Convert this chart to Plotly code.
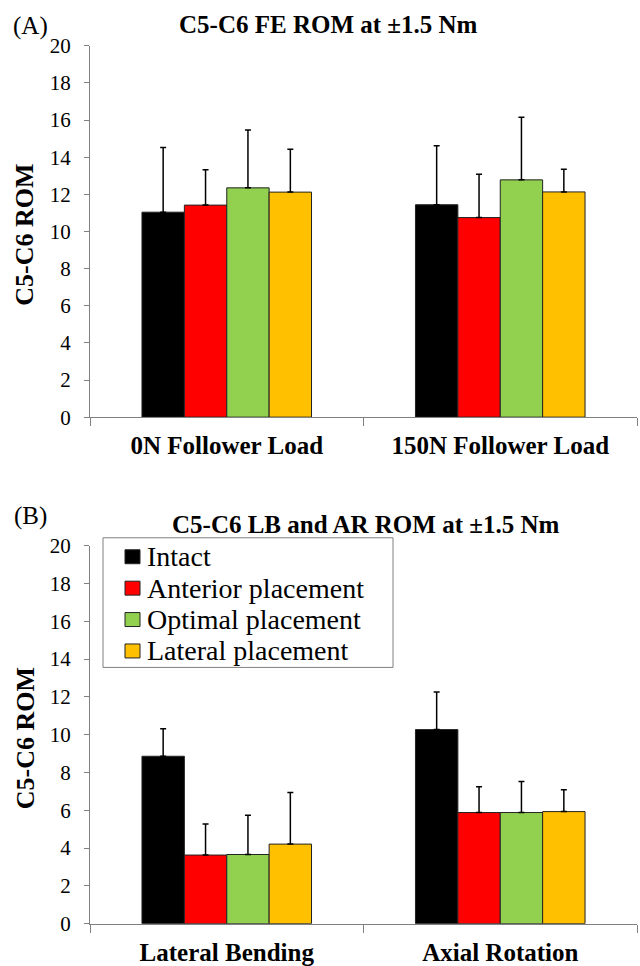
import plotly.graph_objects as go
from plotly.subplots import make_subplots

series = ["Intact", "Anterior placement", "Optimal placement", "Lateral placement"]
colors = ["#000000", "#FF0000", "#92D050", "#FFC000"]

cats_a = ["0N Follower Load", "150N Follower Load"]
vals_a = {
    "Intact": [11.04, 11.44],
    "Anterior placement": [11.42, 10.75],
    "Optimal placement": [12.35, 12.78],
    "Lateral placement": [12.12, 12.13],
}
err_a = {
    "Intact": [3.48, 3.18],
    "Anterior placement": [1.90, 2.33],
    "Optimal placement": [3.12, 3.37],
    "Lateral placement": [2.31, 1.22],
}

cats_b = ["Lateral Bending", "Axial Rotation"]
vals_b = {
    "Intact": [8.86, 10.27],
    "Anterior placement": [3.63, 5.88],
    "Optimal placement": [3.66, 5.88],
    "Lateral placement": [4.21, 5.93],
}
err_b = {
    "Intact": [1.46, 1.99],
    "Anterior placement": [1.65, 1.37],
    "Optimal placement": [2.08, 1.64],
    "Lateral placement": [2.73, 1.15],
}

y_ticks = list(range(0, 21, 2))

SERIF = "Liberation Serif"
W, H = 640, 966


def py(ys):
    """paper y for a target pixel row (compensating the page's vertical fit)."""
    return 1 - ((ys - 11.6) / 0.975) / H


fig = make_subplots(rows=2, cols=1)

for row, (cats, vals, errs) in enumerate([(cats_a, vals_a, err_a), (cats_b, vals_b, err_b)], start=1):
    for i, s in enumerate(series):
        fig.add_trace(go.Bar(
            x=cats, y=vals[s], name=s, showlegend=False, hoverinfo="skip",
            marker=dict(color=colors[i], line=dict(color="#222222", width=1)),
            error_y=dict(type="data", symmetric=False, array=errs[s],
                         arrayminus=[0] * len(cats), color="#000000",
                         thickness=1.5, width=3),
        ), row=row, col=1)

xd = [90 / W, 637 / W]
yA = [py(418), py(45.5)]
yB = [py(926), py(547)]

axis_common_y = dict(range=[0, 20], tickvals=y_ticks, showline=True, linecolor="#808080",
                     linewidth=1, ticks="outside", ticklen=5, tickcolor="#808080",
                     showgrid=False, zeroline=False, ticklabelstandoff=9,
                     tickfont=dict(family=SERIF, size=21, color="#000000"))
axis_common_x = dict(showline=True, linecolor="#808080", linewidth=1, ticks="outside",
                     ticklen=8, tickcolor="#808080", tickson="boundaries", showgrid=False,
                     ticklabelstandoff=6,
                     tickfont=dict(family=SERIF, size=25, color="#000000"))

fig.update_layout(
    xaxis=dict(domain=xd, tickvals=cats_a, ticktext=["<b>%s</b>" % c for c in cats_a], **axis_common_x),
    yaxis=dict(domain=yA, **axis_common_y),
    xaxis2=dict(domain=xd, tickvals=cats_b, ticktext=["<b>%s</b>" % c for c in cats_b], **axis_common_x),
    yaxis2=dict(domain=yB, **axis_common_y),
)

fig.update_layout(
    width=W, height=H, margin=dict(l=0, r=0, t=0, b=0),
    paper_bgcolor="white", plot_bgcolor="white",
    barmode="group", bargap=0.38, bargroupgap=0,
    font=dict(family=SERIF, color="#000000"),
    showlegend=False,
)

ann = [
    dict(text="(A)", x=11 / W, y=py(26), xanchor="left", yanchor="middle", font=dict(size=25)),
    dict(text="<b>C5-C6 FE ROM at ±1.5 Nm</b>", x=328 / W, y=py(24), xanchor="center",
         yanchor="middle", font=dict(size=25)),
    dict(text="(B)", x=12 / W, y=py(517), xanchor="left", yanchor="middle", font=dict(size=25)),
    dict(text="<b>C5-C6 LB and AR ROM at ±1.5 Nm</b>", x=366 / W, y=py(526), xanchor="center",
         yanchor="middle", font=dict(size=25)),
    dict(text="<b>C5-C6 ROM</b>", x=25 / W, y=py(235), xanchor="center", yanchor="middle",
         textangle=-90, font=dict(size=26)),
    dict(text="<b>C5-C6 ROM</b>", x=25 / W, y=py(740), xanchor="center", yanchor="middle",
         textangle=-90, font=dict(size=26)),
]

# Legend (panel B), drawn as a bordered box with swatches and text
shapes = [dict(type="rect", xref="paper", yref="paper",
               x0=103 / W, x1=393 / W, y0=py(669), y1=py(539),
               line=dict(color="#808080", width=1), fillcolor="white", layer="above")]
row_y = [557, 588.5, 620, 651.5]
for i, s in enumerate(series):
    yc = row_y[i]
    shapes.append(dict(type="rect", xref="paper", yref="paper",
                       x0=125 / W, x1=140 / W, y0=py(yc + 8), y1=py(yc - 6),
                       line=dict(color="#222222", width=1), fillcolor=colors[i], layer="above"))
    ann.append(dict(text=s, x=145 / W, y=py(yc + 1), xanchor="left", yanchor="middle",
                    font=dict(size=28)))

for a in ann:
    a.update(xref="paper", yref="paper", showarrow=False)
    a["font"] = dict(family=SERIF, color="#000000", **a["font"])
fig.update_layout(annotations=ann, shapes=shapes)

post = (
    "var gd=document.getElementById('{plot_id}');"
    "gd.style.position='absolute';gd.style.top='0px';gd.style.left='0px';"
    "document.documentElement.style.margin='0';document.body.style.margin='0';"
    "document.body.style.padding='0';"
    "document.documentElement.style.overflow='hidden';document.body.style.overflow='hidden';"
)
fig.write_html("out.html", config={"displayModeBar": False}, post_script=post)
